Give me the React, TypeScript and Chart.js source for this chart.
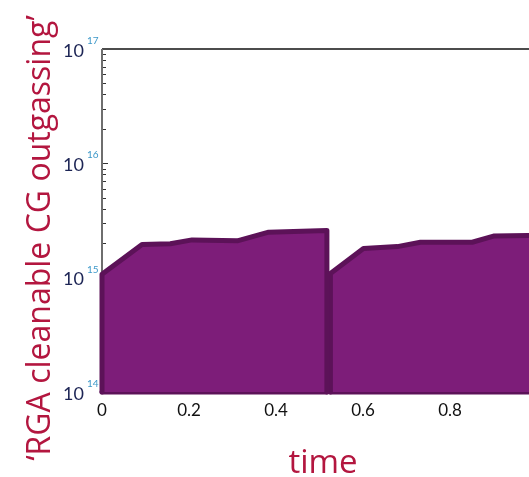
import { useEffect, useRef } from "react";
import { Chart, registerables } from "chart.js";

Chart.register(...registerables);

// First cycle: time vs. outgassing level
const cycle1Time = [0, 0.092, 0.157, 0.207, 0.311, 0.383, 0.517];
const cycle1Outgassing = [1.07e15, 1.95e15, 1.98e15, 2.14e15, 2.1e15, 2.5e15, 2.58e15];

// Second cycle
const cycle2Time = [0.525, 0.601, 0.679, 0.732, 0.851, 0.9, 0.98, 1.0];
const cycle2Outgassing = [1.09e15, 1.8e15, 1.87e15, 2.04e15, 2.04e15, 2.31e15, 2.34e15, 2.35e15];

const yDecades = [14, 15, 16, 17];
const xTickValues = [0, 0.2, 0.4, 0.6, 0.8, 1.0];
const yFloor = 1e14;
const yCeil = 1e17;

const FILL = "#7d1d79";
const EDGE = "#5c1258";
const TITLE = "#b3163f";

// Open outline: up from the floor, along the curve, down to the floor again
function outline(times: number[], values: number[]) {
  const pts = times.map((x, i) => ({ x, y: values[i] }));
  return [{ x: times[0], y: yFloor }, ...pts, { x: times[times.length - 1], y: yFloor }];
}

// Floor edge of each block
function floorEdge(times: number[]) {
  return [
    { x: times[0], y: yFloor },
    { x: times[times.length - 1], y: yFloor },
  ];
}

const framePlugin = {
  id: "frame",
  beforeDatasetsDraw(chart: any) {
    const { ctx, chartArea, scales } = chart;
    const { left, top, right, bottom } = chartArea;
    const y = scales.y;
    ctx.save();
    // top rule
    ctx.strokeStyle = "#111";
    ctx.lineWidth = 1.5;
    ctx.beginPath();
    ctx.moveTo(left, top);
    ctx.lineTo(right + 40, top);
    ctx.stroke();
    // left axis
    ctx.strokeStyle = "#6e6e6e";
    ctx.lineWidth = 2;
    ctx.beginPath();
    ctx.moveTo(left, top);
    ctx.lineTo(left, bottom);
    ctx.stroke();
    // inward major/minor ticks
    ctx.strokeStyle = "#333";
    ctx.lineWidth = 1;
    for (let d = yDecades[0]; d < yDecades[yDecades.length - 1]; d++) {
      for (let m = 1; m <= 9; m++) {
        const py = Math.round(y.getPixelForValue(m * Math.pow(10, d))) + 0.5;
        const len = m === 1 ? 5 : 3;
        ctx.beginPath();
        ctx.moveTo(left + 1, py);
        ctx.lineTo(left + 1 + len, py);
        ctx.stroke();
      }
    }
    ctx.restore();
  },
  afterDraw(chart: any) {
    const { ctx, scales } = chart;
    const y = scales.y;
    ctx.save();
    // power-of-ten labels
    for (const d of yDecades) {
      const py = y.getPixelForValue(Math.pow(10, d));
      ctx.font = "18px Lato";
      ctx.fillStyle = "#1d2555";
      ctx.textAlign = "right";
      ctx.textBaseline = "middle";
      ctx.fillText("10", 84, py + 2);
      ctx.font = "10px Lato";
      ctx.fillStyle = "#3d98c9";
      ctx.textAlign = "left";
      ctx.textBaseline = "alphabetic";
      ctx.fillText(String(d), 87, py - 5);
    }
    // axis titles
    ctx.fillStyle = TITLE;
    ctx.font = '33px "Open Sans"';
    ctx.textAlign = "center";
    ctx.textBaseline = "alphabetic";
    ctx.fillText("time", 323, 473);
    ctx.font = '32px "Open Sans"';
    ctx.translate(50, 238);
    ctx.rotate(-Math.PI / 2);
    ctx.fillText("\u2018RGA cleanable CG outgassing\u2019", 0, 0);
    ctx.restore();
  },
};

export default function App() {
  const canvasRef = useRef<HTMLCanvasElement | null>(null);

  useEffect(() => {
    const canvas = canvasRef.current;
    if (!canvas) return;
    const edgeStyle = {
      borderColor: EDGE,
      borderWidth: 5,
      borderJoinStyle: "round" as const,
      borderCapStyle: "round" as const,
      pointRadius: 0,
      tension: 0,
      clip: false as any,
    };
    const block = (times: number[], values: number[]) => ({
      ...edgeStyle,
      data: outline(times, values),
      backgroundColor: FILL,
      fill: "start",
    });
    const floor = (times: number[]) => ({
      ...edgeStyle,
      data: floorEdge(times),
      fill: false,
    });
    const chart = new Chart(canvas, {
      type: "line",
      data: {
        datasets: [
          block(cycle1Time, cycle1Outgassing),
          floor(cycle1Time),
          block(cycle2Time, cycle2Outgassing),
          floor(cycle2Time),
        ],
      },
      options: {
        animation: false,
        responsive: false,
        events: [],
        layout: { padding: { left: 102, top: 49, right: 23, bottom: 0 } },
        plugins: { legend: { display: false }, tooltip: { enabled: false } },
        scales: {
          x: {
            type: "linear",
            min: xTickValues[0],
            max: xTickValues[xTickValues.length - 1],
            grid: { display: false, drawTicks: false },
            border: { display: false },
            afterBuildTicks: (s: any) => {
              s.ticks = xTickValues.map((v) => ({ value: v }));
            },
            afterFit: (s: any) => {
              s.height = 85;
            },
            ticks: {
              autoSkip: false,
              maxRotation: 0,
              padding: 8,
              color: "#111",
              font: { family: "Lato", size: 17 },
              callback: (v: any) => String(Math.round(Number(v) * 10) / 10),
            },
          },
          y: {
            type: "logarithmic",
            min: yFloor,
            max: yCeil,
            display: false,
          },
        },
      },
      plugins: [framePlugin],
    });
    return () => chart.destroy();
  }, []);

  return (
    <div
      style={{
        position: "absolute",
        left: 0,
        top: 0,
        width: 529,
        height: 477,
        overflow: "hidden",
        background: "#fff",
      }}
    >
      <canvas ref={canvasRef} width={560} height={477} style={{ display: "block" }} />
    </div>
  );
}
